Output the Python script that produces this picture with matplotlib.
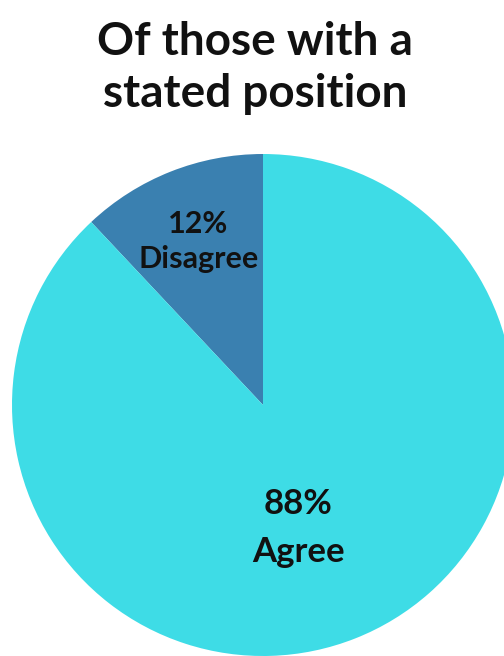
import matplotlib
matplotlib.use("Agg")
import matplotlib.pyplot as plt
import numpy as np

categories = ["Disagree", "Agree"]
values = [12, 88]
pct_labels = ["12%", "88%"]
colors = ["#3A80B0", "#3EDCE6"]
title = "Of those with a\nstated position"

W, H, DPI = 504, 656, 100
fig = plt.figure(figsize=(W / DPI, H / DPI), dpi=DPI)
fig.patch.set_facecolor("white")
ax = fig.add_axes([0, 0, 1, 1])

R = 251.0
cx, cy = 263.0, 405.0  # pixel center (from top)
ax.pie(values, colors=colors, startangle=90, counterclock=True, radius=1,
       wedgeprops=dict(linewidth=0))
ax.set_xlim(-cx / R, (W - cx) / R)
ax.set_ylim(-(H - cy) / R, cy / R)
ax.set_aspect("auto")
ax.axis("off")

font = "Lato"
dists = [0.70, 0.51]
ang_offsets = [0.0, -5.7]
sizes = [22, 25]
spacings = [1.3, 1.6]
start = 90.0
for i, v in enumerate(values):
    mid = np.deg2rad(start + v / sum(values) * 360 / 2 + ang_offsets[i])
    start += v / sum(values) * 360
    x, y = dists[i] * np.cos(mid), dists[i] * np.sin(mid)
    ax.text(x, y, pct_labels[i] + "\n" + categories[i], ha="center", va="center",
            fontsize=sizes[i], fontweight="bold", family=font,
            linespacing=spacings[i], color="#111111")

fig.text(0.506, 0.896, title, ha="center", va="center", fontsize=33,
         fontweight="bold", family=font, linespacing=1.3, color="#111111")

fig.savefig("out.png", dpi=DPI, facecolor="white")
